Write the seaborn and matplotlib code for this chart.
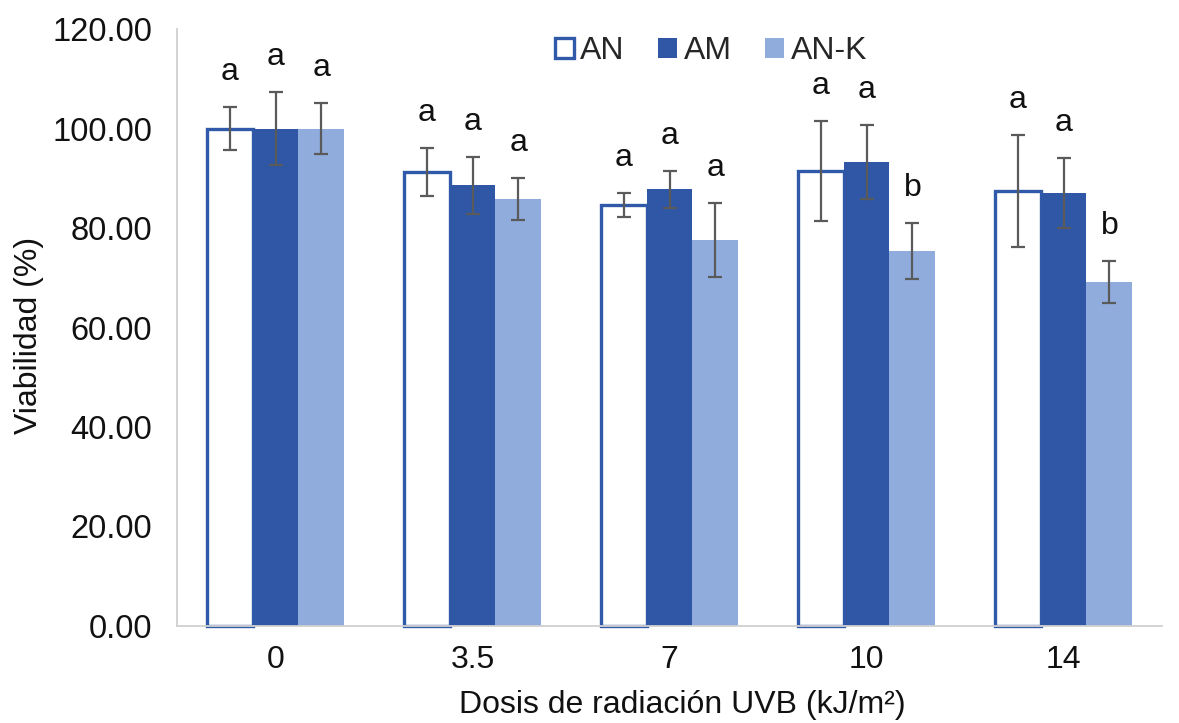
import matplotlib
matplotlib.use("Agg")
import matplotlib.pyplot as plt
import seaborn as sns
import pandas as pd
from matplotlib.patches import Patch

doses = ["0", "3.5", "7", "10", "14"]
series = ["AN", "AM", "AN-K"]
an_vals = [100.0, 91.3, 84.6, 91.5, 87.4]
am_vals = [100.0, 88.6, 87.8, 93.3, 87.0]
ank_vals = [100.0, 85.8, 77.6, 75.4, 69.1]
an_err = [4.4, 4.8, 2.4, 10.0, 11.3]
am_err = [7.3, 5.7, 3.7, 7.4, 7.0]
ank_err = [5.2, 4.2, 7.5, 5.6, 4.2]
an_letters = ["a", "a", "a", "a", "a"]
am_letters = ["a", "a", "a", "a", "a"]
ank_letters = ["a", "a", "a", "b", "b"]
yticks = [0, 20, 40, 60, 80, 100, 120]

sns.set_theme(style="white")
plt.rcParams["font.family"] = ["Liberation Sans", "DejaVu Sans"]

rows = []
for s, vals, errs, lets in [("AN", an_vals, an_err, an_letters),
                            ("AM", am_vals, am_err, am_letters),
                            ("AN-K", ank_vals, ank_err, ank_letters)]:
    for d, v, e, l in zip(doses, vals, errs, lets):
        rows.append({"dose": d, "serie": s, "value": v, "err": e, "letter": l})
df = pd.DataFrame(rows)

c_dark = "#2F57A6"
c_light = "#8FACDD"
c_edge = "#3159AA"
palette = {"AN": "white", "AM": c_dark, "AN-K": c_light}
FS = 23

fig = plt.figure(figsize=(11.79, 7.23), dpi=100)
ax = fig.add_axes([177/1179, 1-626/723, (1162-177)/1179, (626-29)/723])

sns.barplot(data=df, x="dose", y="value", hue="serie", order=doses,
            hue_order=series, palette=palette, width=0.7, gap=0,
            errorbar=None, legend=False, ax=ax, saturation=1)

for cont, s in zip(ax.containers, series):
    sub = df[df.serie == s].set_index("dose").loc[doses]
    for bar, (_, r) in zip(cont.patches, sub.iterrows()):
        if s == "AN":
            bar.set_edgecolor(c_edge)
            bar.set_linewidth(2.4)
            bar.set_facecolor("white")
            bar.set_clip_on(False)
        else:
            bar.set_edgecolor("none")
            bar.set_linewidth(0)
        cx = bar.get_x() + bar.get_width()/2
        ax.errorbar(cx, r.value, yerr=r.err, fmt="none", ecolor="#5A5A5A",
                    elinewidth=1.6, capsize=5, capthick=1.6, zorder=5)
        ax.text(cx, r.value + r.err + 4.0, r.letter, ha="center", va="bottom",
                fontsize=FS, color="#111111")

ax.set_xlim(-0.5, 4.5)
ax.set_ylim(0, 120)
ax.set_yticks(yticks)
ax.set_yticklabels([f"{t:.2f}" for t in yticks], fontsize=FS + 0.5, color="#111111")
ax.tick_params(axis="x", labelsize=FS, colors="#111111", length=0, pad=14)
ax.tick_params(axis="y", length=0, pad=18)
for lab in ax.get_xticklabels():
    lab.set_color("#111111")
ax.set_xlabel("Dosis de radiación UVB (kJ/m²)", fontsize=FS, color="#111111")
ax.xaxis.set_label_coords((682 - 177) / (1162 - 177), -(690 - 626) / (626 - 29))
ax.set_ylabel("Viabilidad (%)", fontsize=FS, color="#111111")
ax.yaxis.set_label_coords(-(177 - 44) / (1162 - 177), (626 - 335) / (626 - 29))

for side in ["top", "right"]:
    ax.spines[side].set_visible(False)
for side in ["left", "bottom"]:
    ax.spines[side].set_color("#D0D0D0")
    ax.spines[side].set_linewidth(1.3)

handles = [Patch(facecolor="white", edgecolor=c_edge, linewidth=2.4, label="AN"),
           Patch(facecolor=c_dark, edgecolor="none", label="AM"),
           Patch(facecolor=c_light, edgecolor="none", label="AN-K")]
fig.legend(handles=handles, loc="center", bbox_to_anchor=(711/1179, 1-51/723),
           ncol=3, frameon=False, fontsize=FS, handlelength=0.6, handleheight=0.6,
           handletextpad=0.2, columnspacing=1.05)

fig.savefig("out.png", dpi=100)
